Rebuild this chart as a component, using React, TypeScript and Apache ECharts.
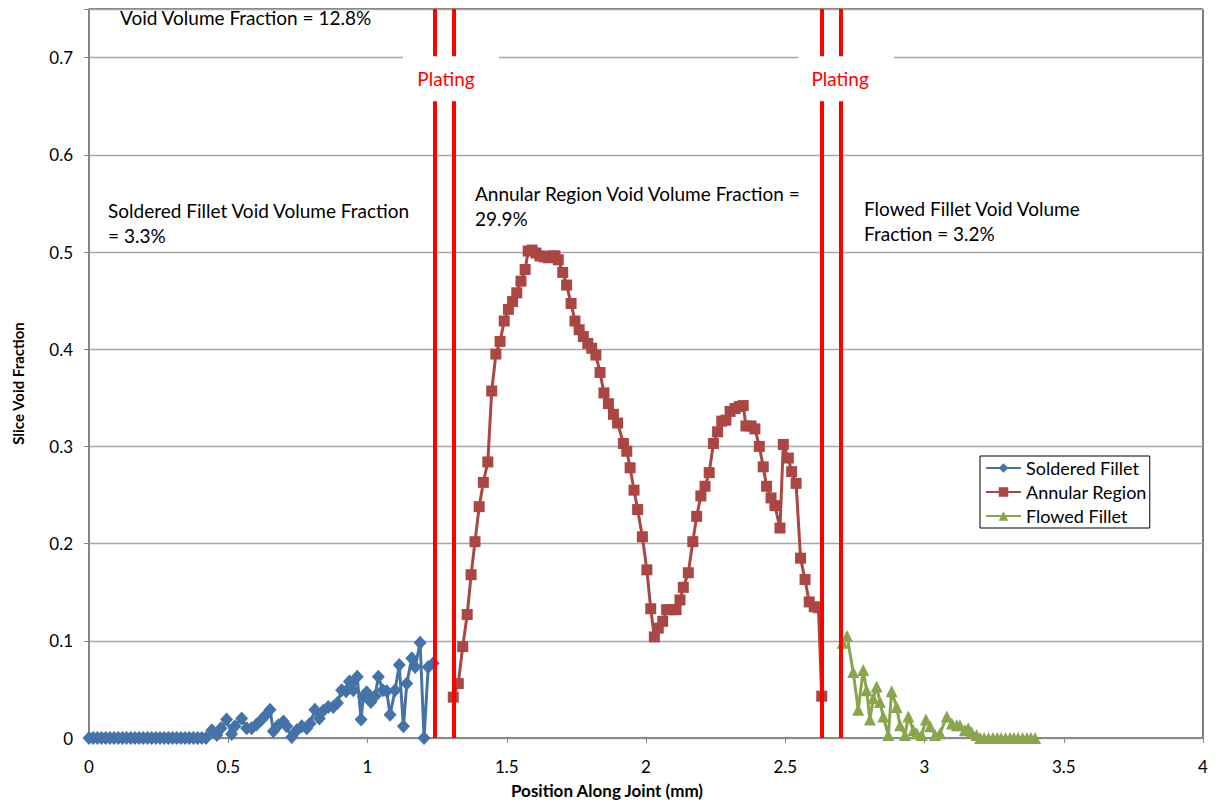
import { useEffect, useRef } from "react";
import * as echarts from "echarts";

const FONT = "Lato, 'Liberation Sans', sans-serif";

// Position along joint (mm), slice void fraction
const solderedFillet: [number, number][] = [
  [0, 0], [0.015, 0], [0.03, 0], [0.045, 0], [0.06, 0], [0.075, 0], [0.09, 0], [0.105, 0],
  [0.12, 0], [0.135, 0], [0.15, 0], [0.165, 0], [0.18, 0], [0.195, 0], [0.21, 0], [0.225, 0],
  [0.24, 0], [0.255, 0], [0.27, 0], [0.285, 0], [0.3, 0], [0.315, 0], [0.33, 0], [0.345, 0],
  [0.36, 0], [0.375, 0], [0.39, 0], [0.405, 0], [0.42, 0],
  [0.441, 0.008], [0.459, 0.003], [0.474, 0.01], [0.494, 0.019], [0.512, 0.004], [0.524, 0.012],
  [0.548, 0.02], [0.566, 0.01], [0.584, 0.01], [0.602, 0.014], [0.62, 0.019], [0.636, 0.024],
  [0.65, 0.029], [0.662, 0.007], [0.68, 0.013], [0.698, 0.017], [0.71, 0.012], [0.728, 0.001],
  [0.746, 0.008], [0.764, 0.012], [0.782, 0.01], [0.794, 0.015], [0.811, 0.029], [0.827, 0.02],
  [0.841, 0.028], [0.859, 0.032], [0.877, 0.032], [0.892, 0.036], [0.907, 0.049], [0.923, 0.048],
  [0.935, 0.058], [0.949, 0.049], [0.963, 0.063], [0.977, 0.019], [0.985, 0.043], [0.997, 0.047],
  [1.012, 0.037], [1.027, 0.043], [1.039, 0.063], [1.055, 0.049], [1.069, 0.048], [1.081, 0.024],
  [1.099, 0.049], [1.114, 0.075], [1.129, 0.012], [1.141, 0.056], [1.159, 0.082], [1.171, 0.073],
  [1.189, 0.098], [1.203, 0.0], [1.218, 0.073], [1.236, 0.077],
];

const annularRegion: [number, number][] = [
  [1.308, 0.042], [1.326, 0.056], [1.342, 0.094], [1.358, 0.127], [1.372, 0.168], [1.386, 0.202],
  [1.401, 0.238], [1.416, 0.263], [1.432, 0.284], [1.446, 0.357], [1.461, 0.395], [1.476, 0.408],
  [1.491, 0.429], [1.506, 0.441], [1.521, 0.449], [1.536, 0.458], [1.551, 0.47], [1.566, 0.482],
  [1.577, 0.501], [1.591, 0.502], [1.605, 0.499], [1.619, 0.496], [1.634, 0.495], [1.649, 0.494],
  [1.662, 0.496], [1.673, 0.496], [1.685, 0.492], [1.701, 0.479], [1.715, 0.466], [1.731, 0.447],
  [1.745, 0.429], [1.76, 0.42], [1.775, 0.413], [1.791, 0.406], [1.805, 0.401], [1.82, 0.394],
  [1.835, 0.376], [1.849, 0.355], [1.865, 0.344], [1.883, 0.333], [1.898, 0.324], [1.919, 0.303],
  [1.931, 0.295], [1.943, 0.278], [1.957, 0.255], [1.97, 0.235], [1.987, 0.207], [2.003, 0.173],
  [2.017, 0.133], [2.03, 0.104], [2.044, 0.113], [2.06, 0.12], [2.074, 0.132], [2.09, 0.132],
  [2.108, 0.132], [2.122, 0.142], [2.134, 0.155], [2.152, 0.17], [2.168, 0.202], [2.182, 0.228],
  [2.197, 0.249], [2.212, 0.259], [2.227, 0.273], [2.242, 0.303], [2.257, 0.315], [2.272, 0.326],
  [2.287, 0.327], [2.302, 0.336], [2.32, 0.339], [2.335, 0.341], [2.349, 0.342], [2.359, 0.321],
  [2.377, 0.321], [2.391, 0.318], [2.407, 0.3], [2.421, 0.279], [2.433, 0.259], [2.449, 0.247],
  [2.463, 0.239], [2.481, 0.216], [2.493, 0.302], [2.511, 0.288], [2.523, 0.274], [2.539, 0.262],
  [2.555, 0.185], [2.571, 0.163], [2.586, 0.14], [2.604, 0.135], [2.619, 0.134], [2.631, 0.043],
];

const flowedFillet: [number, number][] = [
  [2.706, 0.098], [2.722, 0.105], [2.744, 0.068], [2.762, 0.029], [2.78, 0.07], [2.792, 0.049],
  [2.804, 0.019], [2.816, 0.041], [2.828, 0.053], [2.84, 0.037], [2.852, 0.022], [2.87, 0.003],
  [2.882, 0.048], [2.9, 0.032], [2.912, 0.013], [2.93, 0.003], [2.942, 0.022], [2.96, 0.008],
  [2.972, 0.005], [2.99, 0.003], [3.005, 0.019], [3.02, 0.012], [3.038, 0.003], [3.056, 0.005],
  [3.08, 0.022], [3.098, 0.015], [3.116, 0.013], [3.127, 0.013], [3.145, 0.008], [3.157, 0.01],
  [3.169, 0.006], [3.187, 0.003], [3.2, 0], [3.214, 0], [3.23, 0], [3.246, 0], [3.261, 0],
  [3.275, 0], [3.291, 0], [3.307, 0], [3.321, 0], [3.336, 0], [3.352, 0], [3.368, 0],
  [3.382, 0], [3.397, 0],
];

// Plating boundaries (mm)
const platingLines = [1.235, 1.307, 2.632, 2.704];

const seriesNames = ["Soldered Fillet", "Annular Region", "Flowed Fillet"];

const annotations = [
  { text: "Void Volume Fraction = 12.8%", x: 120, y: 5 },
  { text: "Soldered Fillet Void Volume Fraction\n= 3.3%", x: 108, y: 198 },
  { text: "Annular Region Void Volume Fraction =\n29.9%", x: 475, y: 181 },
  { text: "Flowed Fillet Void Volume\nFraction = 3.2%", x: 864, y: 196 },
];

const platingBoxes = [
  { x0: 1.1275, x1: 1.472, cx: 1.282 },
  { x0: 2.546, x1: 2.89, cx: 2.697 },
];
const platingBoxTop = 0.7015;
const platingBoxBottom = 0.655;
const platingTextY = 0.679;

export default function App() {
  const ref = useRef<HTMLDivElement>(null);

  useEffect(() => {
    document.body.style.margin = "0";
    const chart = echarts.init(ref.current!, null, { renderer: "svg" });
    const axisGray = "#868686";
    const option: any = {
      animation: false,
      backgroundColor: "#fff",
      textStyle: { fontFamily: FONT },
      grid: {
        left: 89,
        right: 18,
        top: 9,
        bottom: 65,
        outerBoundsMode: "none",
        containLabel: false,
        show: true,
        borderColor: "#000",
        borderWidth: 1,
        backgroundColor: "transparent",
      },
      legend: {
        data: seriesNames,
        orient: "vertical",
        left: 980,
        top: 456,
        borderColor: "#000",
        borderWidth: 1,
        padding: [3, 3, 3, 5],
        itemGap: 6,
        itemWidth: 35,
        itemHeight: 12,
        textStyle: { fontFamily: FONT, fontSize: 18, color: "#000" },
        selectedMode: false,
      },
      xAxis: {
        type: "value",
        min: 0,
        max: 4,
        interval: 0.5,
        name: "Position Along Joint (mm)",
        nameLocation: "middle",
        nameGap: 44,
        nameTextStyle: {
          fontFamily: FONT,
          fontWeight: "bold",
          fontSize: 17,
          color: "#000",
          padding: [0, 78, 0, 0],
        },
        axisLine: { show: true, lineStyle: { color: axisGray, width: 1.5 } },
        axisTick: { show: true, length: 5, lineStyle: { color: axisGray } },
        splitLine: { show: false },
        axisLabel: {
          fontFamily: FONT,
          fontSize: 17,
          color: "#000",
          margin: 20,
          formatter: (v: number) => String(v),
        },
      },
      yAxis: {
        type: "value",
        min: 0,
        max: 0.75,
        interval: 0.1,
        name: "Slice Void Fraction",
        nameLocation: "middle",
        nameGap: 64,
        nameTextStyle: {
          fontFamily: FONT,
          fontWeight: "bold",
          fontSize: 15,
          color: "#000",
          padding: [0, 20, 0, 0],
        },
        axisLine: { show: true, lineStyle: { color: axisGray, width: 1.5 } },
        axisTick: { show: true, length: 5, lineStyle: { color: axisGray } },
        splitLine: { show: true, lineStyle: { color: "#a6a6a6", width: 1.3 } },
        axisLabel: {
          fontFamily: FONT,
          fontSize: 17,
          color: "#000",
          margin: 16,
          formatter: (v: number) => (v > 0.71 ? "" : String(parseFloat(v.toFixed(1)))),
        },
      },
      series: [
        {
          name: seriesNames[0],
          type: "line",
          data: solderedFillet,
          symbol: "diamond",
          symbolSize: [13, 14],
          itemStyle: { color: "#4572A7" },
          lineStyle: { color: "#4572A7", width: 3 },
          emphasis: { disabled: true },
          z: 2,
        },
        {
          name: seriesNames[1],
          type: "line",
          data: annularRegion,
          symbol: "rect",
          symbolSize: 11,
          itemStyle: { color: "#AA4643" },
          lineStyle: { color: "#AA4643", width: 3 },
          emphasis: { disabled: true },
          z: 3,
        },
        {
          name: seriesNames[2],
          type: "line",
          data: flowedFillet,
          symbol: "triangle",
          symbolSize: 12,
          itemStyle: { color: "#89A54E" },
          lineStyle: { color: "#89A54E", width: 3 },
          emphasis: { disabled: true },
          z: 4,
          markLine: {
            silent: true,
            symbol: ["none", "none"],
            label: { show: false },
            lineStyle: { color: "#FF0000", width: 4, type: "solid" },
            emphasis: { disabled: true },
            data: platingLines.map((x) => ({ xAxis: x })),
          },
        },
      ],
    };
    chart.setOption(option);

    const toPx = (x: number, y: number) =>
      chart.convertToPixel({ gridIndex: 0 }, [x, y]) as number[];

    const graphics: any[] = [];
    platingBoxes.forEach((b) => {
      const p0 = toPx(b.x0, platingBoxTop);
      const p1 = toPx(b.x1, platingBoxBottom);
      const pc = toPx(b.cx, platingTextY);
      graphics.push({
        type: "rect",
        z: 100,
        silent: true,
        shape: { x: p0[0], y: p0[1], width: p1[0] - p0[0], height: p1[1] - p0[1] },
        style: { fill: "#fff" },
      });
      graphics.push({
        type: "text",
        z: 101,
        silent: true,
        x: pc[0],
        y: pc[1],
        style: {
          text: "Plating",
          fill: "#FF0000",
          font: `19px ${FONT}`,
          textAlign: "center",
          textVerticalAlign: "middle",
        },
      });
    });
    annotations.forEach((a) => {
      graphics.push({
        type: "text",
        z: 101,
        silent: true,
        x: a.x,
        y: a.y,
        style: {
          text: a.text,
          fill: "#000",
          font: `19px ${FONT}`,
          lineHeight: 25,
          textAlign: "left",
          textVerticalAlign: "top",
        },
      });
    });
    chart.setOption({ graphic: graphics });

    return () => chart.dispose();
  }, []);

  return <div ref={ref} style={{ width: 1221, height: 803 }} />;
}
